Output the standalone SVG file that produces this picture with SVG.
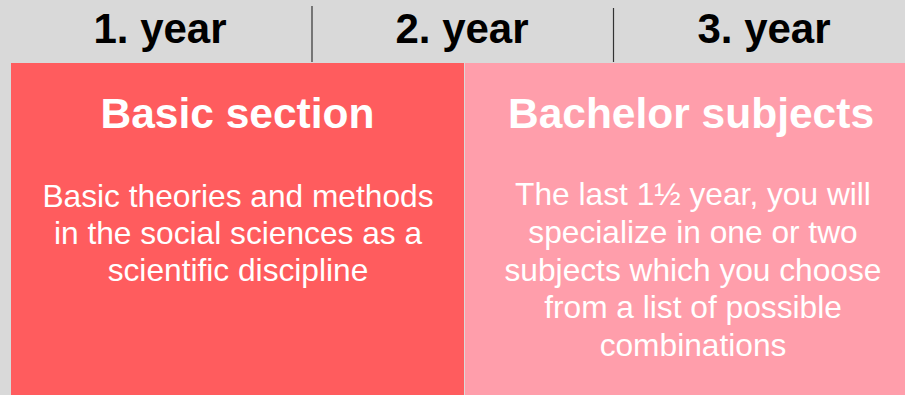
<svg xmlns="http://www.w3.org/2000/svg" width="905" height="395" viewBox="0 0 905 395">
<style>
.yr{font-family:"Liberation Sans",Arial,sans-serif;font-weight:bold;font-size:42px;fill:#000;text-anchor:middle}
.ttl{font-family:"Liberation Sans",Arial,sans-serif;font-weight:bold;font-size:42.5px;fill:#fff;text-anchor:middle}
.body{font-family:"Liberation Sans",Arial,sans-serif;font-size:31.7px;fill:#fff;text-anchor:middle}
.sep{stroke:#333;stroke-width:1.2}
</style>
<rect x="0" y="0" width="905" height="395" fill="#d9d9d9"/>
<g id="years">
<text class="yr" x="160" y="43">1. year</text>
<text class="yr" x="462" y="43">2. year</text>
<text class="yr" x="764" y="43">3. year</text>
<line class="sep" x1="312" y1="6" x2="312" y2="62"/>
<line class="sep" x1="613.5" y1="8" x2="613.5" y2="62"/>
</g>
<g id="basic">
<rect x="11" y="63" width="453" height="332" fill="#ff5c5e"/>
<text class="ttl" x="237.5" y="128">Basic section</text>
<text class="body" x="238" y="207">Basic theories and methods</text>
<text class="body" x="238" y="244">in the social sciences as a</text>
<text class="body" x="238" y="281">scientific discipline</text>
</g>
<g id="bachelor">
<rect x="465" y="63" width="440" height="332" fill="#ff9eab"/>
<text class="ttl" x="691" y="128">Bachelor subjects</text>
<text class="body" x="693" y="205">The last 1½ year, you will</text>
<text class="body" x="693" y="243">specialize in one or two</text>
<text class="body" x="693" y="281">subjects which you choose</text>
<text class="body" x="693" y="318">from a list of possible</text>
<text class="body" x="693" y="356">combinations</text>
</g>
<g id="connectors"/>
</svg>
